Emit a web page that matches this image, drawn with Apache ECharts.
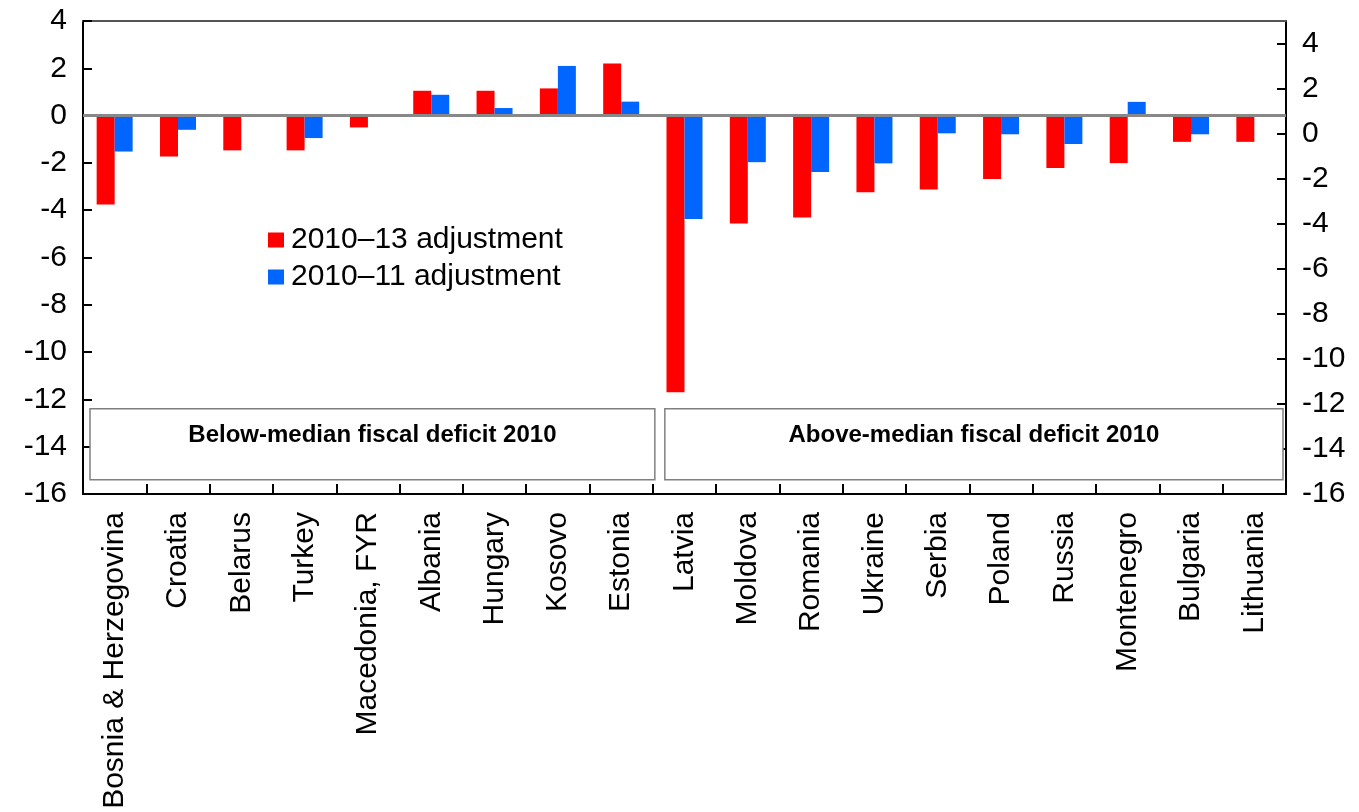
<!DOCTYPE html>
<html>
<head>
<meta charset="utf-8">
<script src="https://cdn.jsdelivr.net/npm/echarts@6/dist/echarts.min.js"></script>
<style>
html,body{margin:0;padding:0;background:#fff;}
#chart{width:1359px;height:812px;}
</style>
</head>
<body>
<div id="chart"></div>
<script>
const categories = ['Bosnia & Herzegovina','Croatia','Belarus','Turkey','Macedonia, FYR','Albania','Hungary','Kosovo','Estonia','Latvia','Moldova','Romania','Ukraine','Serbia','Poland','Russia','Montenegro','Bulgaria','Lithuania'];
const adj2010_13 = [-3.76,-1.73,-1.47,-1.47,-0.5,1.05,1.05,1.15,2.2,-11.7,-4.56,-4.31,-3.24,-3.13,-2.68,-2.22,-2.01,-1.11,-1.11];
const adj2010_11 = [-1.52,-0.6,null,-0.95,null,0.88,0.32,2.1,0.59,-4.37,-1.97,-2.38,-2.02,-0.75,-0.79,-1.2,0.58,-0.79,null];
const seriesNames = ['2010\u201313 adjustment','2010\u201311 adjustment'];
const groupLabels = ['Below-median fiscal deficit 2010','Above-median fiscal deficit 2010'];
const groupSplitIndex = 9; // first category of second group
const boxTop = -12.4, boxBottom = -15.4;

const FONT = "'Liberation Sans', Arial, sans-serif";
const chart = echarts.init(document.getElementById('chart'), null, {renderer:'canvas'});
const option = {
  animation:false,
  backgroundColor:'#fff',
  grid:{left:83, right:73, top:21, bottom:318, containLabel:false},
  legend:{
    orient:'vertical', left:268, top:225, padding:0, itemWidth:16, itemHeight:15, itemGap:7,
    icon:'rect',
    textStyle:{fontFamily:FONT, fontSize:30, color:'#000', padding:[0,0,0,2]},
    data:seriesNames
  },
  xAxis:[{
    type:'category', data:categories, position:'bottom',
    axisLine:{onZero:false, lineStyle:{color:'#000', width:2}},
    axisTick:{show:true, inside:true, length:10, lineStyle:{color:'#000', width:2}},
    axisLabel:{rotate:90, fontFamily:FONT, fontSize:30, color:'#000', margin:18, interval:0},
    splitLine:{show:false}
  },{
    type:'category', data:categories, position:'top',
    axisLine:{onZero:false, lineStyle:{color:'#555', width:2}},
    axisTick:{show:false}, axisLabel:{show:false}, splitLine:{show:false}
  }],
  yAxis:[{
    type:'value', min:-16, max:4, interval:2, position:'left',
    axisLine:{show:true, lineStyle:{color:'#000', width:2}},
    axisTick:{show:true, inside:true, length:9, lineStyle:{color:'#000', width:2}},
    axisLabel:{fontFamily:FONT, fontSize:30, color:'#000', margin:16},
    splitLine:{show:false}
  },{
    type:'value', min:-16, max:5, interval:2, position:'right',
    axisLine:{show:true, lineStyle:{color:'#000', width:2}},
    axisTick:{show:true, inside:true, length:9, lineStyle:{color:'#000', width:2}},
    axisLabel:{fontFamily:FONT, fontSize:30, color:'#000', margin:16, showMaxLabel:false},
    splitLine:{show:false}
  }],
  series:[{
    name:seriesNames[0], type:'bar', data:adj2010_13, barWidth:18, barGap:'0%',
    itemStyle:{color:'#ff0000'},
    markLine:{silent:true, symbol:'none', label:{show:false},
      lineStyle:{color:'#888', width:3, type:'solid'}, data:[{yAxis:0}]}
  },{
    name:seriesNames[1], type:'bar', data:adj2010_11, barWidth:18, barGap:'0%',
    itemStyle:{color:'#0066ff'}
  }]
};
chart.setOption(option);

// group boxes built from axis scales
const c0 = chart.convertToPixel({xAxisIndex:0}, categories[0]);
const c1 = chart.convertToPixel({xAxisIndex:0}, categories[1]);
const bw = c1 - c0;
const edge = i => c0 - bw/2 + i*bw;
const yT = chart.convertToPixel({yAxisIndex:0}, boxTop);
const yB = chart.convertToPixel({yAxisIndex:0}, boxBottom);
const boxes = [
  {x1:edge(0)+7, x2:edge(groupSplitIndex)+2, label:groupLabels[0]},
  {x1:edge(groupSplitIndex)+12, x2:edge(categories.length)-3, label:groupLabels[1]}
];
const graphics = [];
boxes.forEach(b=>{
  graphics.push({type:'rect', shape:{x:b.x1, y:yT, width:b.x2-b.x1, height:yB-yT},
    style:{fill:'#fff', stroke:'#808080', lineWidth:1.5}, z:1});
  graphics.push({type:'text', x:(b.x1+b.x2)/2, y:yT+27,
    style:{text:b.label, font:"bold 24px 'Liberation Sans', Arial, sans-serif", fill:'#000',
      textAlign:'center', textVerticalAlign:'middle'}, z:2});
});
chart.setOption({graphic:graphics});
</script>
</body>
</html>
